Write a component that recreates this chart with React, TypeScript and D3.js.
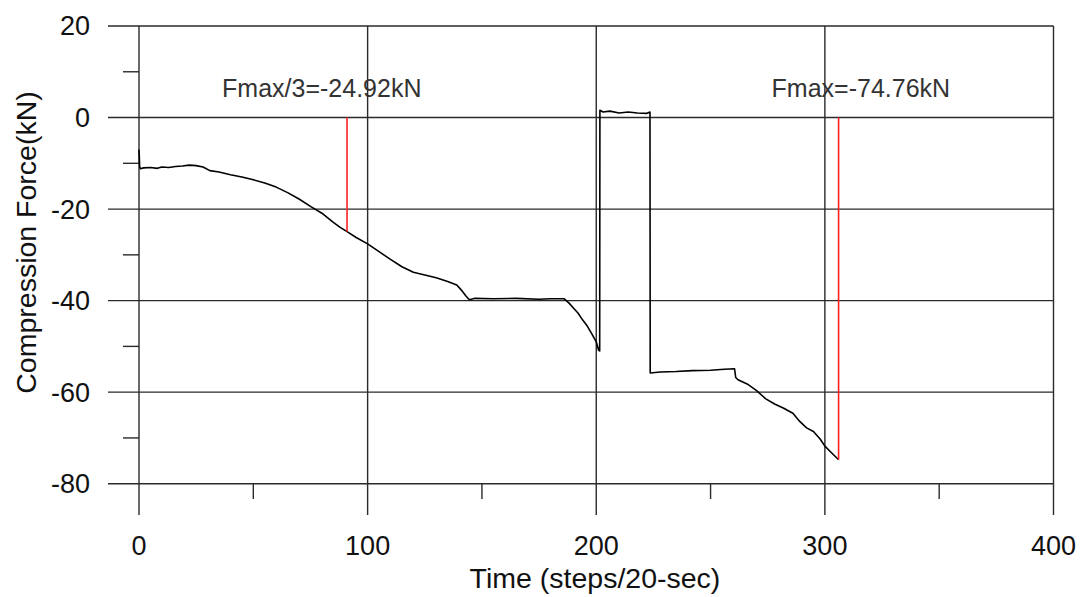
import React from "react";
import * as d3 from "d3";

const timeSteps = [0, 0.3, 0.6, 2, 5, 8, 10, 13, 16, 19, 22, 25, 28, 31, 35, 40, 45, 50, 55, 60, 65, 70, 75, 80, 85, 88, 91, 95, 100, 105, 110, 115, 120, 125, 130, 135, 139, 141, 143, 144.5, 147, 155, 165, 175, 180, 186, 188, 190, 192, 194, 196, 198, 200, 201, 201.5, 201.6, 203, 206, 210, 214, 218, 222, 223.5, 223.6, 228, 235, 242, 250, 256, 260.5, 261, 262, 266, 270, 274, 278, 282, 286, 289, 292, 295, 298, 300, 303, 306];
const force = [-7, -10.8, -11.2, -11.0, -10.9, -11.1, -10.8, -10.9, -10.7, -10.6, -10.4, -10.5, -10.8, -11.6, -11.9, -12.5, -13.0, -13.6, -14.3, -15.2, -16.4, -17.8, -19.4, -20.9, -22.9, -24.0, -24.92, -26.2, -27.6, -29.3, -31.0, -32.6, -33.8, -34.4, -35.0, -35.8, -36.6, -37.7, -39.0, -39.8, -39.5, -39.6, -39.5, -39.7, -39.6, -39.6, -40.5, -41.6, -42.7, -44.2, -45.5, -47.2, -49.0, -50.8, -51.0, 1.6, 1.2, 1.4, 1.0, 1.2, 1.0, 0.9, 1.2, -55.8, -55.6, -55.5, -55.3, -55.2, -55.0, -54.9, -56.8, -57.3, -58.2, -59.6, -61.4, -62.6, -63.5, -64.6, -66.4, -67.8, -68.6, -70.3, -71.8, -73.3, -74.76];

const markerX = [91, 306];
const markerY = [-24.92, -74.76];
const markerLabels = ["Fmax/3=-24.92kN", "Fmax=-74.76kN"];

const xMajor = [0, 100, 200, 300, 400];
const xMinor = [50, 150, 250, 350];
const yMajor = [20, 0, -20, -40, -60, -80];
const yMinor = [10, -10, -30, -50, -70];

const W = 1083, H = 597;
const x = d3.scaleLinear().domain([0, 400]).range([139, 1053.5]);
const y = d3.scaleLinear().domain([20, -80]).range([26, 483.7]);
const FONT = "'Liberation Sans', Arial, sans-serif";
const GRID = "#2a2a2a";

export default function App() {
  const pts = timeSteps.map((t, i) => [t, force[i]] as [number, number]);
  const line = d3.line<[number, number]>().x(d => x(d[0])).y(d => y(d[1]));
  const labelOffsets = [-125, -67];
  return (
    <svg width={W} height={H} style={{ position: "absolute", left: 0, top: 0, background: "#fff" }}>
      {yMajor.map(v => (
        <line key={"yg" + v} x1={108} x2={x(400)} y1={y(v)} y2={y(v)} stroke={GRID} strokeWidth={1.4} />
      ))}
      {yMinor.map(v => (
        <line key={"ym" + v} x1={123} x2={x(0)} y1={y(v)} y2={y(v)} stroke={GRID} strokeWidth={1.4} />
      ))}
      {xMajor.map(v => (
        <line key={"xg" + v} x1={x(v)} x2={x(v)} y1={y(20)} y2={515} stroke={GRID} strokeWidth={1.4} />
      ))}
      {xMinor.map(v => (
        <line key={"xm" + v} x1={x(v)} x2={x(v)} y1={y(-80)} y2={499} stroke={GRID} strokeWidth={1.4} />
      ))}
      {yMajor.map(v => (
        <text key={"yl" + v} x={90} y={y(v)} dy="0.35em" textAnchor="end" fontFamily={FONT} fontSize={27} fill="#111">{v}</text>
      ))}
      {xMajor.map(v => (
        <text key={"xl" + v} x={x(v)} y={555} textAnchor="middle" fontFamily={FONT} fontSize={27} fill="#111">{v}</text>
      ))}
      <text x={595} y={588} textAnchor="middle" fontFamily={FONT} fontSize={28.5} fill="#111">Time (steps/20-sec)</text>
      <text transform={`translate(36,242.5) rotate(-90)`} textAnchor="middle" fontFamily={FONT} fontSize={28.5} fill="#111">Compression Force(kN)</text>
      <path d={line(pts) || ""} fill="none" stroke="#000" strokeWidth={1.6} strokeLinejoin="round" />
      {markerX.map((mx, i) => (
        <line key={"mk" + i} x1={x(mx)} x2={x(mx)} y1={y(0)} y2={y(markerY[i])} stroke="#ff2020" strokeWidth={1.6} />
      ))}
      {markerX.map((mx, i) => (
        <text key={"ml" + i} x={x(mx) + labelOffsets[i]} y={97} fontFamily={FONT} fontSize={25} fill="#333">{markerLabels[i]}</text>
      ))}
    </svg>
  );
}
